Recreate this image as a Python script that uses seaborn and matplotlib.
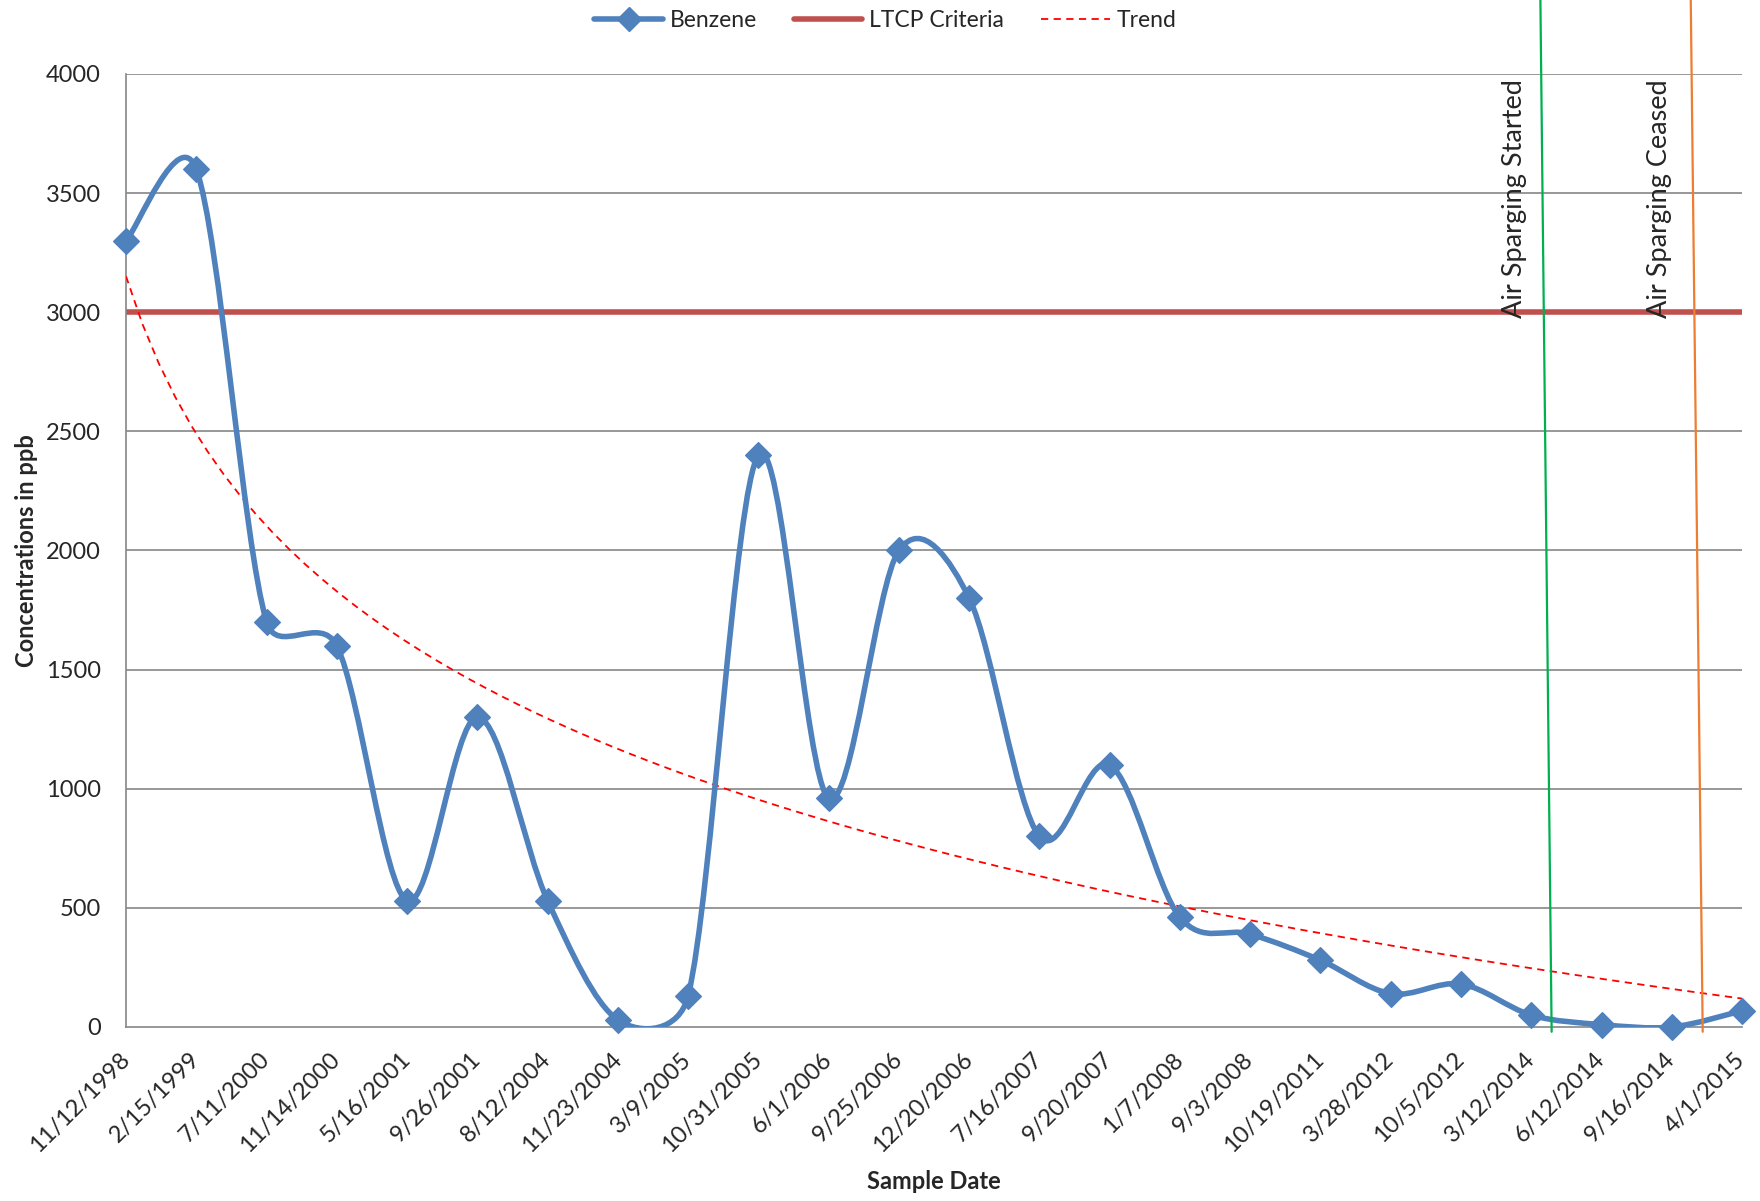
import numpy as np
import matplotlib
matplotlib.use("Agg")
import matplotlib.pyplot as plt
from matplotlib.path import Path
from matplotlib.patches import PathPatch
from matplotlib.lines import Line2D
import pandas as pd
import seaborn as sns

DATES = ["11/12/1998", "2/15/1999", "7/11/2000", "11/14/2000", "5/16/2001", "9/26/2001",
         "8/12/2004", "11/23/2004", "3/9/2005", "10/31/2005", "6/1/2006", "9/25/2006",
         "12/20/2006", "7/16/2007", "9/20/2007", "1/7/2008", "9/3/2008", "10/19/2011",
         "3/28/2012", "10/5/2012", "3/12/2014", "6/12/2014", "9/16/2014", "4/1/2015"]
BENZENE = [3300, 3600, 1700, 1600, 530, 1300, 530, 30, 130, 2400, 960, 2000,
           1800, 800, 1100, 460, 390, 280, 140, 180, 50, 10, 0, 68]
LTCP = 3000
YTICKS = [0, 500, 1000, 1500, 2000, 2500, 3000, 3500, 4000]

# event markers (category position, bottom -> top, slightly slanted like the source)
STARTED_X = (21.29, 21.13)
CEASED_X = (23.44, 23.27)

BLUE = "#4F81BD"
RED = "#C0504D"
GRID = "#868686"
FONT = "Lato"


def excel_smooth(ax, xs, ys):
    # Excel-style smoothed line: bezier with tension 1/6, capped at half segment length
    pts = np.column_stack([xs, ys]).astype(float)
    disp = ax.transData.transform(pts)
    n = len(pts)
    verts, codes = [pts[0]], [Path.MOVETO]
    for i in range(n - 1):
        i0, i1, i2, i3 = max(i - 1, 0), i, i + 1, min(i + 2, n - 1)
        d12 = np.hypot(*(disp[i2] - disp[i1]))
        d02 = np.hypot(*(disp[i2] - disp[i0]))
        d13 = np.hypot(*(disp[i3] - disp[i1]))
        f0 = f1 = 1 / 6
        if d02 / 6 >= d12 / 2 and d02 > 0:
            f0 = d12 / 2 / d02
        if d13 / 6 >= d12 / 2 and d13 > 0:
            f1 = d12 / 2 / d13
        c1 = pts[i1] + (pts[i2] - pts[i0]) * f0
        c2 = pts[i2] - (pts[i3] - pts[i1]) * f1
        verts += [c1, c2, pts[i2]]
        codes += [Path.CURVE4] * 3
    return Path(verts, codes)


def run():
    sns.set_style("white")
    plt.rcParams["font.family"] = [FONT, "DejaVu Sans"]

    pos = np.arange(1, len(DATES) + 1)
    df = pd.DataFrame({"pos": pos, "Benzene": BENZENE, "LTCP": [LTCP] * len(pos)})

    fig = plt.figure(figsize=(17.6, 12.01), dpi=100)
    fig.subplots_adjust(left=0.0716, right=0.9898, bottom=0.1449, top=0.9384)
    ax = fig.add_subplot(111)
    ax.set_xlim(1, len(DATES))
    ax.set_ylim(0, 4000)

    for y in YTICKS[1:]:
        ax.axhline(y, color=GRID, lw=1.2, zorder=0)

    sns.lineplot(data=df, x="pos", y="LTCP", color=RED, lw=4, ax=ax, zorder=2)

    sns.regplot(data=df, x="pos", y="Benzene", logx=True, ci=None, scatter=False, ax=ax,
                line_kws=dict(color="#FF0000", lw=1.3, ls=(0, (4, 3)), zorder=3))

    path = excel_smooth(ax, df["pos"], df["Benzene"])
    ax.add_patch(PathPatch(path, fill=False, edgecolor=BLUE, lw=4, zorder=4,
                           capstyle="round", joinstyle="round"))
    sns.scatterplot(data=df, x="pos", y="Benzene", marker="D", s=170, color=BLUE,
                    edgecolor=BLUE, ax=ax, zorder=5, clip_on=False)

    ax.plot(STARTED_X, [-20, 4310], color="#00B050", lw=1.6, clip_on=False, zorder=6)
    ax.plot(CEASED_X, [-20, 4310], color="#ED7D31", lw=1.6, clip_on=False, zorder=6)
    ax.text(20.94, 2975, "Air Sparging Started", rotation=90, ha="right", va="bottom",
            fontsize=19.5, zorder=7)
    ax.text(23.0, 2975, "Air Sparging Ceased", rotation=90, ha="right", va="bottom",
            fontsize=19.5, zorder=7)

    ax.set_xticks(pos)
    ax.set_xticklabels(DATES, rotation=45, ha="right", va="center", rotation_mode="anchor",
                       fontsize=17)
    ax.set_yticks(YTICKS)
    ax.set_yticklabels([str(v) for v in YTICKS], fontsize=17)
    ax.tick_params(axis="both", direction="out", length=6, width=1.2, color=GRID)
    ax.tick_params(axis="y", pad=12)
    ax.tick_params(axis="x", pad=15)
    for side in ["top", "right"]:
        ax.spines[side].set_visible(False)
    for side in ["left", "bottom"]:
        ax.spines[side].set_color(GRID)
        ax.spines[side].set_linewidth(1.2)

    ax.set_xlabel("Sample Date", fontsize=17, fontweight="bold", labelpad=10)
    ax.set_ylabel("Concentrations in ppb", fontsize=17, fontweight="bold", labelpad=6)

    handles = [
        Line2D([], [], color=BLUE, lw=4, marker="D", markersize=12),
        Line2D([], [], color=RED, lw=4),
        Line2D([], [], color="#FF0000", lw=1.3, ls=(0, (4, 3))),
    ]
    fig.legend(handles, ["Benzene", "LTCP Criteria", "Trend"], loc="center",
               bbox_to_anchor=(0.503, 0.983), ncol=3, frameon=False, fontsize=16.5,
               handlelength=3, handletextpad=0.3, columnspacing=1.6)

    fig.savefig("out.png", dpi=100)
    plt.close(fig)


if __name__ == "__main__":
    run()
